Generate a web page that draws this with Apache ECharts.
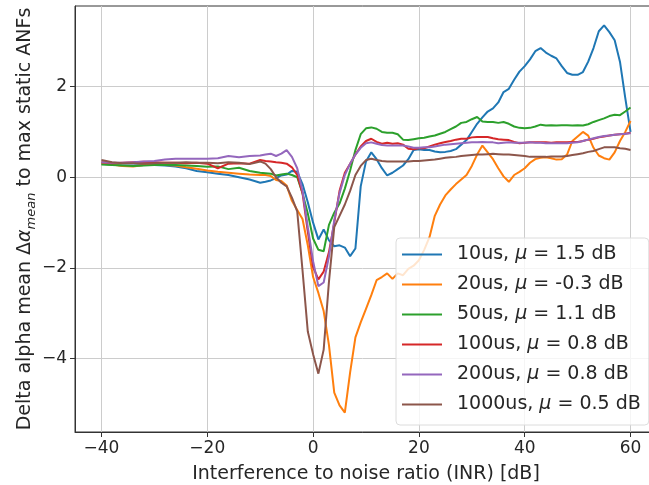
<!DOCTYPE html>
<html>
<head>
<meta charset="utf-8">
<script src="https://cdn.jsdelivr.net/npm/echarts@6/dist/echarts.min.js"></script>
<style>
  html, body { margin: 0; padding: 0; background: #fff; }
  #main { width: 649px; height: 485px; }
</style>
</head>
<body>
<div id="main"></div>
<script>
// INR steps in dB (2 dB apart in the flat part, 1 dB after)
var inr = [-40, -38, -36, -34, -32, -30, -28, -26, -24, -22, -20, -18, -16, -14, -12, -10,
    -9, -8, -7, -6, -5, -4, -3, -2, -1,
    0, 1, 2, 3, 4, 5, 6, 7, 8, 9,
    10, 11, 12, 13, 14, 15, 16, 17, 18, 19,
    20, 21, 22, 23, 24, 25, 26, 27, 28, 29,
    30, 31, 32, 33, 34, 35, 36, 37, 38, 39,
    40, 41, 42, 43, 44, 45, 46, 47, 48, 49,
    50, 51, 52, 53, 54, 55, 56, 57, 58, 59, 60];

var names = ['10us, μ = 1.5 dB', '20us, μ = -0.3 dB', '50us, μ = 1.1 dB',
    '100us, μ = 0.8 dB', '200us, μ = 0.8 dB', '1000us, μ = 0.5 dB'];
var colors = ['#1f77b4', '#ff7f0e', '#2ca02c', '#d62728', '#9467bd', '#8c564b'];

var us10 = [0.30, 0.28, 0.26, 0.26, 0.27, 0.27, 0.26, 0.24, 0.20, 0.14, 0.11, 0.08, 0.05, 0.00, -0.05, -0.12,
    -0.10, -0.07, -0.02, 0.04, 0.06, 0.14, 0.12, -0.15, -0.55,
    -1.00, -1.37, -1.15, -1.39, -1.52, -1.50, -1.55, -1.74, -1.57, -0.20,
    0.35, 0.55, 0.40, 0.20, 0.04, 0.10, 0.18, 0.26, 0.40, 0.60,
    0.62, 0.60, 0.60, 0.57, 0.55, 0.56, 0.58, 0.62, 0.72, 0.82,
    1.00, 1.18, 1.32, 1.45, 1.52, 1.65, 1.88, 1.95, 2.15, 2.33,
    2.45, 2.60, 2.78, 2.85, 2.75, 2.68, 2.62, 2.45, 2.30, 2.26,
    2.26, 2.32, 2.55, 2.85, 3.22, 3.35, 3.20, 3.02, 2.55, 1.75, 1.00];

var us20 = [0.30, 0.28, 0.25, 0.24, 0.27, 0.28, 0.27, 0.26, 0.22, 0.19, 0.15, 0.12, 0.10, 0.08, 0.06, 0.05,
    0.05, 0.03, -0.06, -0.08, -0.18, -0.52, -0.72, -0.92, -1.50,
    -2.20, -2.55, -2.95, -3.70, -4.75, -5.03, -5.19, -4.30, -3.53, -3.20,
    -2.90, -2.60, -2.27, -2.20, -2.12, -2.24, -2.12, -2.16, -2.02, -1.95,
    -1.83, -1.60, -1.32, -0.85, -0.60, -0.40, -0.27, -0.15, -0.05, 0.05,
    0.25, 0.50, 0.70, 0.55, 0.40, 0.20, 0.02, -0.10, 0.05, 0.12,
    0.20, 0.32, 0.40, 0.43, 0.44, 0.42, 0.39, 0.40, 0.50, 0.80,
    0.90, 1.00, 0.92, 0.65, 0.48, 0.42, 0.39, 0.55, 0.80, 1.00, 1.24];

var us50 = [0.28, 0.27, 0.26, 0.25, 0.26, 0.27, 0.27, 0.27, 0.26, 0.25, 0.23, 0.24, 0.18, 0.21, 0.14, 0.10,
    0.09, 0.08, 0.04, 0.06, 0.08, 0.05, 0.00, -0.35, -0.80,
    -1.35, -1.60, -1.63, -1.05, -0.78, -0.58, -0.25, 0.15, 0.60, 0.95,
    1.08, 1.10, 1.07, 1.00, 0.98, 0.98, 0.95, 0.83, 0.82, 0.84,
    0.86, 0.87, 0.90, 0.92, 0.96, 1.00, 1.06, 1.12, 1.20, 1.22,
    1.28, 1.33, 1.23, 1.22, 1.22, 1.20, 1.22, 1.18, 1.12, 1.09,
    1.08, 1.09, 1.12, 1.16, 1.14, 1.15, 1.14, 1.15, 1.15, 1.14,
    1.15, 1.14, 1.17, 1.22, 1.26, 1.30, 1.35, 1.38, 1.37, 1.45, 1.54];

var us100 = [0.33, 0.31, 0.32, 0.33, 0.34, 0.33, 0.32, 0.32, 0.31, 0.32, 0.30, 0.20, 0.30, 0.31, 0.30, 0.38,
    0.36, 0.35, 0.33, 0.32, 0.30, 0.22, 0.05, -0.35, -1.20,
    -1.98, -2.25, -2.08, -1.65, -1.00, -0.30, 0.10, 0.30, 0.50, 0.68,
    0.80, 0.85, 0.78, 0.74, 0.76, 0.74, 0.75, 0.72, 0.63, 0.62,
    0.64, 0.64, 0.68, 0.72, 0.75, 0.78, 0.80, 0.83, 0.85, 0.85,
    0.88, 0.89, 0.89, 0.89, 0.86, 0.84, 0.83, 0.82, 0.78, 0.75,
    0.76, 0.77, 0.77, 0.77, 0.77, 0.76, 0.77, 0.77, 0.77, 0.78,
    0.78, 0.80, 0.83, 0.85, 0.88, 0.90, 0.92, 0.94, 0.95, 0.96, 0.98];

var us200 = [0.33, 0.32, 0.32, 0.33, 0.35, 0.36, 0.39, 0.41, 0.41, 0.41, 0.41, 0.42, 0.47, 0.44, 0.47, 0.48,
    0.50, 0.52, 0.47, 0.52, 0.60, 0.45, 0.20, -0.30, -1.10,
    -1.85, -2.40, -2.32, -1.75, -0.95, -0.35, 0.05, 0.30, 0.50, 0.65,
    0.75, 0.77, 0.74, 0.71, 0.70, 0.70, 0.70, 0.70, 0.68, 0.65,
    0.65, 0.66, 0.66, 0.68, 0.70, 0.72, 0.73, 0.74, 0.75, 0.76,
    0.77, 0.77, 0.78, 0.77, 0.77, 0.75, 0.76, 0.77, 0.76, 0.76,
    0.76, 0.77, 0.76, 0.76, 0.75, 0.75, 0.75, 0.75, 0.75, 0.76,
    0.77, 0.80, 0.83, 0.86, 0.89, 0.91, 0.92, 0.94, 0.95, 0.96, 0.97];

var us1000 = [0.38, 0.33, 0.31, 0.31, 0.30, 0.31, 0.32, 0.32, 0.33, 0.32, 0.32, 0.31, 0.33, 0.32, 0.29, 0.35,
    0.30, 0.18, 0.00, -0.12, -0.20, -0.45, -0.75, -2.05, -3.40,
    -3.90, -4.33, -3.80, -2.30, -1.10, -0.85, -0.60, -0.30, 0.05, 0.25,
    0.38, 0.41, 0.38, 0.36, 0.35, 0.35, 0.35, 0.35, 0.35, 0.36,
    0.36, 0.37, 0.38, 0.39, 0.41, 0.43, 0.44, 0.45, 0.47, 0.48,
    0.49, 0.50, 0.50, 0.51, 0.52, 0.51, 0.50, 0.50, 0.49, 0.48,
    0.47, 0.45, 0.45, 0.45, 0.45, 0.46, 0.46, 0.46, 0.47, 0.49,
    0.51, 0.53, 0.56, 0.58, 0.62, 0.66, 0.66, 0.66, 0.64, 0.63, 0.60];

var xTicks = [-40, -20, 0, 20, 40, 60];
var yTicks = [-4, -2, 0, 2];

var allValues = [us10, us20, us50, us100, us200, us1000];

var myChart = echarts.init(document.getElementById('main'));

var font = 'DejaVu Sans';
var textColor = '#262626';

// 坐标轴刻度用真正的减号
function minusSign(v) {
    return String(v).replace('-', '\u2212');
}

var series = allValues.map(function (vals, k) {
    return {
        name: names[k],
        type: 'line',
        symbol: 'none',
        showSymbol: false,
        color: colors[k],
        lineStyle: { width: 2, color: colors[k] },
        data: inr.map(function (x, i) { return [x, vals[i]]; })
    };
});

var option = {
    animation: false,
    grid: {
        left: 75, top: 6, right: -8, bottom: 53,
        outerBoundsMode: 'none',
        show: true, borderColor: '#333', borderWidth: 1, backgroundColor: 'transparent'
    },
    xAxis: {
        type: 'value',
        min: -45, max: 65,
        name: 'Interference to noise ratio (INR) [dB]',
        nameLocation: 'middle',
        nameGap: 33,
        nameMoveOverlap: false,
        nameTextStyle: { fontFamily: font, fontSize: 19, color: textColor },
        axisLine: { show: true, onZero: false, lineStyle: { color: '#333', width: 1 } },
        axisTick: { show: true, inside: false, length: 5, customValues: xTicks, lineStyle: { color: '#333' } },
        axisLabel: {
            customValues: xTicks, margin: 8,
            fontFamily: font, fontSize: 17, color: textColor,
            formatter: minusSign
        },
        splitLine: { show: true, lineStyle: { color: '#cccccc', width: 1 } }
    },
    yAxis: {
        type: 'value',
        min: -5.617, max: 3.777,
        name: 'Delta alpha mean Δ{a|α}{s|mean} to max static ANFs',
        nameLocation: 'middle',
        nameGap: 37,
        nameMoveOverlap: false,
        nameTextStyle: {
            fontFamily: font, fontSize: 19, color: textColor, lineHeight: 26,
            rich: {
                a: { fontFamily: font, fontSize: 19, fontStyle: 'italic', color: textColor, lineHeight: 26 },
                s: { fontFamily: font, fontSize: 13, fontStyle: 'italic', color: textColor, lineHeight: 15, verticalAlign: 'bottom' }
            }
        },
        axisLine: { show: true, onZero: false, lineStyle: { color: '#333', width: 1 } },
        axisTick: { show: true, inside: false, length: 5, customValues: yTicks, lineStyle: { color: '#333' } },
        axisLabel: {
            customValues: yTicks, margin: 8,
            fontFamily: font, fontSize: 17, color: textColor,
            formatter: minusSign
        },
        splitLine: { show: true, lineStyle: { color: '#cccccc', width: 1 } }
    },
    legend: {
        orient: 'vertical',
        left: 396, top: 238,
        itemWidth: 40, itemHeight: 14, itemGap: 11,
        padding: [7, 8, 11, 6],
        icon: 'path://M0,0H40V2.2H0Z',
        backgroundColor: 'rgba(255,255,255,0.8)',
        borderColor: '#dcdcdc', borderWidth: 1, borderRadius: 4,
        data: names,
        textStyle: {
            fontFamily: font, fontSize: 19, color: textColor, padding: [0, 0, 0, 10],
            rich: {
                i: { fontFamily: font, fontSize: 19, fontStyle: 'italic', color: textColor }
            }
        },
        formatter: function (name) {
            return name.replace('μ', '{i|μ}');
        }
    },
    series: series
};

myChart.setOption(option);
</script>
</body>
</html>
